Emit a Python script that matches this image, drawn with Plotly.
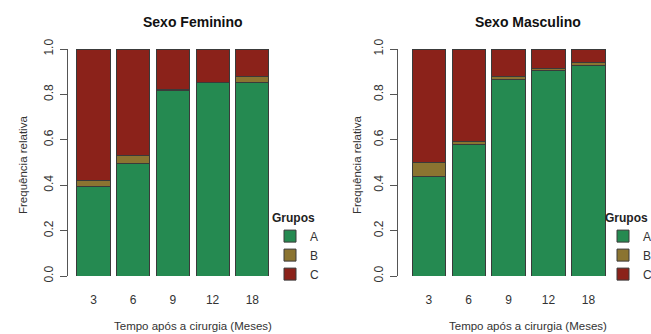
import plotly.graph_objects as go

meses = ["3", "6", "9", "12", "18"]
grupos = ["A", "B", "C"]
cores = ["#258a51", "#8b7431", "#8b221a"]

fem_A = [0.396, 0.496, 0.818, 0.851, 0.851]
fem_B = [0.026, 0.034, 0.004, 0.0, 0.027]
fem_C = [round(1 - a - b, 3) for a, b in zip(fem_A, fem_B)]

mas_A = [0.438, 0.581, 0.866, 0.905, 0.927]
mas_B = [0.060, 0.013, 0.015, 0.010, 0.013]
mas_C = [round(1 - a - b, 3) for a, b in zip(mas_A, mas_B)]

W, H = 651, 334
def px(x):
    return x / W
def py(y):
    return 1 - y / H

fig = go.Figure()
fem = [fem_A, fem_B, fem_C]
mas = [mas_A, mas_B, mas_C]
for g, c, vals in zip(grupos, cores, fem):
    fig.add_trace(go.Bar(x=meses, y=vals, name=g, marker=dict(color=c, line=dict(color="#3a3a3a", width=1)),
                         xaxis="x", yaxis="y", legend="legend"))
for g, c, vals in zip(grupos, cores, mas):
    fig.add_trace(go.Bar(x=meses, y=vals, name=g, marker=dict(color=c, line=dict(color="#3a3a3a", width=1)),
                         xaxis="x2", yaxis="y2", legend="legend2"))

tickfont = dict(family="Liberation Sans, Arial", size=12, color="#333333")
yax = dict(range=[0, 1], tickvals=[0, 0.2, 0.4, 0.6, 0.8, 1.0], ticktext=["0.0", "0.2", "0.4", "0.6", "0.8", "1.0"],
           showline=True, linecolor="#555555", linewidth=1, ticks="outside", ticklen=7, tickcolor="#555555",
           tickangle=-90, showgrid=False, zeroline=False, tickfont=tickfont, ticklabelstandoff=2,
           domain=[py(276), py(49)])
xax = dict(type="category", showline=False, showgrid=False, zeroline=False, ticks="outside", ticklen=13,
           tickcolor="rgba(0,0,0,0)", tickfont=tickfont)

legfont = dict(family="Liberation Sans, Arial", size=12, color="#333333")
legtitle = dict(text="<b>Grupos</b>", font=dict(family="Liberation Sans, Arial", size=12, color="#222222"))

fig.update_layout(
    width=W, height=H, margin=dict(l=0, r=0, t=0, b=0, autoexpand=False),
    paper_bgcolor="white", plot_bgcolor="white",
    barmode="stack", bargap=0.167,
    font=dict(family="Liberation Sans, Arial", color="#333333"),
    xaxis=dict(xax, domain=[px(68), px(277.8)], range=[-0.642, 4.642], anchor="y"),
    yaxis=dict(yax, anchor="x"),
    xaxis2=dict(xax, domain=[px(398), px(614)], range=[-0.77, 4.64], anchor="y2"),
    yaxis2=dict(yax, anchor="x2"),
    legend=dict(title=legtitle, x=px(270), y=py(206), xanchor="left", yanchor="top",
                font=legfont, bgcolor="rgba(0,0,0,0)", traceorder="normal", itemwidth=30),
    legend2=dict(title=legtitle, x=px(603), y=py(206), xanchor="left", yanchor="top",
                 font=legfont, bgcolor="rgba(0,0,0,0)", traceorder="normal", itemwidth=30),
    showlegend=True,
)

ann = [
    dict(text="<b>Sexo Feminino</b>", x=px(193), y=py(22), size=14, color="#111111", angle=0),
    dict(text="<b>Sexo Masculino</b>", x=px(527.5), y=py(22), size=14, color="#111111", angle=0),
    dict(text="Tempo após a cirurgia (Meses)", x=px(193), y=py(326), size=11.5, color="#333333", angle=0),
    dict(text="Tempo após a cirurgia (Meses)", x=px(528), y=py(326), size=11.5, color="#333333", angle=0),
    dict(text="Frequência relativa", x=px(23), y=py(165), size=11.5, color="#333333", angle=-90),
    dict(text="Frequência relativa", x=px(357), y=py(165), size=11.5, color="#333333", angle=-90),
]
for a in ann:
    fig.add_annotation(text=a["text"], x=a["x"], y=a["y"], xref="paper", yref="paper",
                       xanchor="center", yanchor="middle", showarrow=False, textangle=a["angle"],
                       font=dict(family="Liberation Sans, Arial", size=a["size"], color=a["color"]))

fig.write_html("out.html", config={"displayModeBar": False},
               post_script="document.body.style.margin='0';document.body.style.overflow='hidden';")
